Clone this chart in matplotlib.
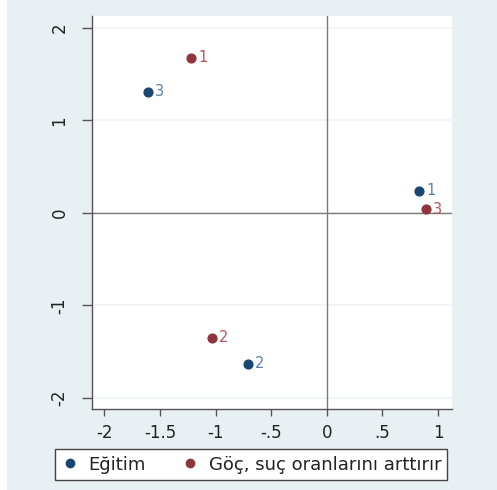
import matplotlib
matplotlib.use("Agg")
import matplotlib.pyplot as plt
from matplotlib.patches import Rectangle
from matplotlib.lines import Line2D

plt.rcParams.update({
    "font.family": ["DejaVu Sans"],
    "font.size": 12,
})

# coordinates
egitim_x = [0.83, -0.71, -1.61]
egitim_y = [0.24, -1.63, 1.31]
egitim_lab = ["1", "2", "3"]

goc_x = [-1.22, -1.03, 0.89]
goc_y = [1.68, -1.35, 0.04]
goc_lab = ["1", "2", "3"]

x_ticks = [-2, -1.5, -1, -0.5, 0, 0.5, 1]
x_ticklabels = ["-2", "-1.5", "-1", "-.5", "0", ".5", "1"]
y_ticks = [-2, -1, 0, 1, 2]
y_ticklabels = ["-2", "-1", "0", "1", "2"]

_BG = "#e8f0f3"
_BLUE = "#1a476f"
_RED = "#90353b"
_BLUE_LAB = "#5a80aa"
_RED_LAB = "#b0585d"
_TXT = "#222222"

fig = plt.figure(figsize=(4.97, 4.90), dpi=100, facecolor=_BG)
fig.patches.append(Rectangle((0, 0), 7 / 497, 1, transform=fig.transFigure,
                             facecolor="white", edgecolor="none", zorder=0))

ax = fig.add_axes([92 / 497, 81 / 490, 360 / 497, 393 / 490])
ax.set_facecolor("white")
ax.set_xlim(-2.11, 1.125)
ax.set_ylim(-2.12, 2.13)

for y in y_ticks:
    ax.axhline(y, color="#eef3f5", linewidth=1.2, zorder=0)
ax.axhline(0, color="#7a7a7a", linewidth=1.0, zorder=1)
ax.axvline(0, color="#7a7a7a", linewidth=1.0, zorder=1)

ax.scatter(egitim_x, egitim_y, s=40, color=_BLUE, zorder=3)
ax.scatter(goc_x, goc_y, s=40, color=_RED, zorder=3)
for x, y, t in zip(egitim_x, egitim_y, egitim_lab):
    ax.annotate(t, (x, y), xytext=(5, 0), textcoords="offset points",
                va="center", ha="left", fontsize=10.5, color=_BLUE_LAB)
for x, y, t in zip(goc_x, goc_y, goc_lab):
    ax.annotate(t, (x, y), xytext=(5, 0), textcoords="offset points",
                va="center", ha="left", fontsize=10.5, color=_RED_LAB)

ax.set_xticks(x_ticks)
ax.set_xticklabels(x_ticklabels)
ax.set_yticks(y_ticks)
ax.set_yticklabels(y_ticklabels, rotation=90, va="center")
ax.tick_params(axis="x", length=5, width=1, color="#555555", pad=6,
               labelcolor=_TXT)
ax.tick_params(axis="y", length=7, width=1, color="#555555", pad=10,
               labelcolor=_TXT)

for side in ("top", "right"):
    ax.spines[side].set_visible(False)
for side in ("left", "bottom"):
    ax.spines[side].set_color("#555555")
    ax.spines[side].set_linewidth(1.0)

handles = [
    Line2D([], [], marker="o", linestyle="none", color=_BLUE, markersize=6),
    Line2D([], [], marker="o", linestyle="none", color=_RED, markersize=6),
]
leg = fig.legend(handles, ["Eğitim", "Göç, suç oranlarını arttırır"],
                 loc="center", ncol=2, bbox_to_anchor=(251 / 497, 25.5 / 490),
                 frameon=True, fancybox=False,
                 edgecolor="#444444", facecolor="white", framealpha=1,
                 handletextpad=0.5, handlelength=1.0, columnspacing=2.0,
                 borderpad=0.35, borderaxespad=0, fontsize=13)
leg.get_frame().set_linewidth(1.0)
for t in leg.get_texts():
    t.set_color(_TXT)

fig.savefig("out.png", dpi=100, facecolor=_BG)
